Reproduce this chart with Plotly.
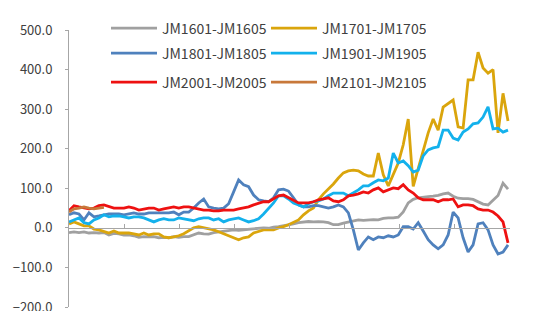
import plotly.graph_objects as go

# trading-day index
days = list(range(89))

jm1601_1605 = [-12, -10, -12, -10, -13, -12, -13, -12, -18, -14, -15, -18, -18, -20, -24, -22, -23, -22, -25, -24,
               -25, -22, -24, -22, -22, -18, -13, -15, -16, -12, -10, -8, -7, -5, -6, -5, -4, -3, -1, 0,
               -1, 2, 3, 5, 8, 10, 13, 14, 16, 15, 16, 15, 13, 8, 8, 12, 15, 18, 20, 19,
               20, 21, 20, 24, 25, 25, 27, 40, 63, 72, 76, 78, 79, 80, 82, 86, 88, 80, 75, 74,
               74, 72, 66, 60, 58, 70, 82, 113, 98]

jm1701_1705 = [10, 15, 10, 5, 5, -3, -5, -10, -13, -8, -13, -13, -13, -15, -18, -13, -18, -15, -15, -23,
               -25, -23, -20, -15, -8, 0, 3, 0, -3, -5, -10, -15, -20, -25, -30, -25, -23, -13, -8, -5,
               -5, -5, 0, 3, 8, 13, 20, 33, 43, 50, 71, 86, 98, 111, 126, 139, 144, 146, 144, 136,
               131, 131, 189, 134, 106, 136, 164, 210, 275, 105, 150, 189, 240, 275, 247, 305, 313, 323, 255, 252,
               374, 374, 444, 404, 391, 400, 240, 340, 270]

jm1801_1805 = [33, 38, 35, 20, 38, 28, 30, 33, 35, 35, 35, 33, 35, 38, 35, 35, 38, 38, 38, 38,
               38, 40, 33, 40, 40, 50, 63, 73, 53, 50, 48, 50, 61, 91, 121, 109, 104, 83, 71, 68,
               66, 76, 96, 98, 93, 76, 58, 53, 53, 56, 56, 53, 50, 53, 58, 53, 38, -5, -56, -38,
               -23, -30, -23, -25, -20, -23, -18, 3, 3, -3, 13, -8, -30, -43, -53, -43, -18, 40, 25, -25,
               -61, -43, 10, 13, -5, -43, -66, -61, -43]

jm1901_1905 = [15, 20, 25, 13, 10, 20, 25, 33, 28, 30, 30, 28, 25, 28, 28, 25, 20, 15, 20, 23,
               20, 20, 25, 23, 20, 18, 23, 25, 25, 20, 23, 15, 20, 23, 25, 20, 15, 18, 23, 35,
               48, 63, 81, 81, 73, 63, 58, 53, 61, 66, 68, 73, 81, 88, 88, 88, 81, 88, 96, 106,
               106, 114, 121, 119, 126, 189, 164, 169, 157, 141, 146, 182, 197, 202, 205, 247, 247, 227, 222, 242,
               250, 263, 265, 280, 306, 250, 252, 242, 247]

jm2001_2005 = [43, 56, 53, 50, 48, 50, 56, 58, 53, 50, 50, 50, 53, 50, 45, 48, 50, 50, 45, 48,
               50, 53, 50, 53, 53, 50, 48, 45, 45, 43, 43, 45, 45, 45, 48, 50, 53, 58, 63, 66,
               66, 73, 81, 83, 76, 71, 63, 63, 63, 66, 71, 73, 76, 68, 66, 71, 81, 83, 86, 91,
               88, 96, 101, 91, 96, 101, 99, 109, 96, 88, 76, 71, 71, 71, 66, 71, 71, 73, 53, 58,
               58, 56, 48, 45, 45, 40, 30, 15, -38]

jm2101_2105 = [40, 48, 50, 53, 50, 48, 50, 52] + [None] * 81

series_names = ["JM1601-JM1605", "JM1701-JM1705", "JM1801-JM1805",
                "JM1901-JM1905", "JM2001-JM2005", "JM2101-JM2105"]
series_values = [jm1601_1605, jm1701_1705, jm1801_1805, jm1901_1905, jm2001_2005, jm2101_2105]
series_colors = ["#A0A0A0", "#DAA50C", "#4F81BD", "#13B1EC", "#EE1111", "#C8783A"]
legend_ids = ["legend", "legend", "legend2", "legend2", "legend3", "legend3"]

y_ticks = [-200, -100, 0, 100, 200, 300, 400, 500]

fig = go.Figure()
for name, vals, col, lg in zip(series_names, series_values, series_colors, legend_ids):
    fig.add_trace(go.Scatter(x=days, y=vals, mode="lines", name=name,
                             line=dict(color=col, width=2.8), legend=lg))

FONT = "Noto Sans CJK SC"
W, H = 550, 311
L, R, T, B = 69, 40, 30, 4

def legend_cfg(ycenter_px):
    return dict(orientation="h", x=(106 - L) / (W - L - R), xanchor="left",
                y=(H - B - ycenter_px) / (H - T - B), yanchor="middle",
                bgcolor="rgba(0,0,0,0)", borderwidth=0,
                itemwidth=46,
                entrywidth=99, entrywidthmode="pixels",
                font=dict(family=FONT, size=14, color="#404040"), traceorder="normal")

fig.update_layout(
    width=W, height=H,
    margin=dict(l=L, r=R, t=T, b=B, autoexpand=False),
    paper_bgcolor="white", plot_bgcolor="white",
    font=dict(family=FONT, size=13, color="#404040"),
    showlegend=True,
    legend=legend_cfg(28.5),
    legend2=legend_cfg(53.5),
    legend3=legend_cfg(82.5),
    xaxis=dict(range=[0, 88.4], tick0=0, dtick=11.05, showgrid=False, zeroline=False,
               showline=True, linecolor="#A6A6A6", linewidth=1,
               ticks="inside", ticklen=4, tickcolor="#A6A6A6", automargin=False,
               showticklabels=False, anchor="free", position=200 / 700),
    yaxis=dict(range=[-200, 500], tickvals=y_ticks, tickformat=".1f", automargin=False,
               showgrid=False, zeroline=False, showline=True, linecolor="#A6A6A6", linewidth=1,
               ticks="outside", ticklen=3, tickcolor="#A6A6A6", ticklabelstandoff=10,
               ticklabeloverflow="allow",
               tickfont=dict(family=FONT, size=13, color="#404040")),
)

fig.write_html("out.html")
